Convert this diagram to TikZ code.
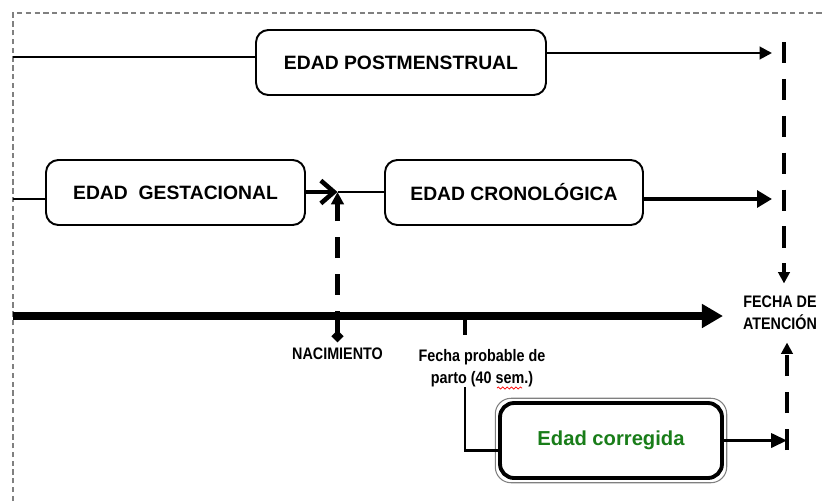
\documentclass[tikz,border=0pt]{standalone}
\usepackage{fontspec}
\setmainfont{Liberation Sans}
\newfontfamily\narrowfont[FakeStretch=0.86]{Liberation Sans}
\usetikzlibrary{arrows.meta,decorations.pathmorphing}
\definecolor{corrgreen}{RGB}{25,125,25}

\begin{document}
\begin{tikzpicture}[x=0.02cm, y=-0.02cm,
  agebox/.style={draw, line width=1.1pt, rounded corners=7pt, inner sep=0pt,
    minimum height=1.3cm, font=\bfseries\fontsize{11}{13}\selectfont},
  labeltext/.style={font=\narrowfont\bfseries\fontsize{9.5}{12.5}\selectfont,
    align=center, inner sep=0pt},
  dashline/.style={line width=2.6pt, dash pattern=on 12pt off 9pt},
]
  \useasboundingbox (0,0) rectangle (825,501);

  % --- frame ---
  \draw[gray, line width=0.6pt, dash pattern=on 3pt off 2pt] (13,501) -- (13,13) -- (825,13);

  % --- boxes ---
  \node[agebox, minimum width=5.8cm] (pm) at (401,62.5) {EDAD POSTMENSTRUAL};
  \node[agebox, minimum width=5.18cm] (ges) at (175.5,192.5) {EDAD\ \ GESTACIONAL};
  \node[agebox, minimum width=5.16cm] (cro) at (514,192.5) {EDAD CRONOLÓGICA};
  \node[agebox, line width=2.2pt, rounded corners=8pt, minimum width=4.44cm,
    minimum height=1.5cm, text=corrgreen,
    font=\bfseries\fontsize{11.5}{13}\selectfont] (cor) at (611,440.5) {Edad corregida};
  \draw[gray, line width=0.6pt, rounded corners=9pt]
    ([shift={(-1.6pt,-1.6pt)}]cor.south west) rectangle ([shift={(1.6pt,1.6pt)}]cor.north east);

  % --- labels ---
  \node[labeltext] (nac) at (337.5,354) {NACIMIENTO};
  \node[labeltext] (fpp) at (482,368) {Fecha probable de\\parto (40 sem.)};
  \node[labeltext] (aten) at (780,313) {FECHA DE\\ATENCIÓN};
  \draw[red, line width=0.4pt, decorate, decoration={snake, amplitude=0.6pt, segment length=2.5pt}]
    (497,388) -- (522,388);

  % --- points ---
  \coordinate (pmin) at (13,57);
  \coordinate (pmend) at (772,53);
  \coordinate (gesin) at (13,199);
  \coordinate (birth) at (337.5,192);
  \coordinate (croend) at (772,199);
  \coordinate (tstart) at (13,316);
  \coordinate (tend) at (723,316);
  \coordinate (nacpt) at (337.5,316);
  \coordinate (fppt) at (465,316);
  \coordinate (atentop) at (784,42);
  \coordinate (corend) at (787,442);
  \coordinate (atenbot) at (787,450);

  % --- upper rows ---
  \draw[line width=1.7pt] (pmin) -- (pmin -| pm.west);
  \draw[line width=1.6pt, -{Triangle[length=7pt,width=7pt]}] (pmend -| pm.east) -- (pmend);
  \draw[line width=1.7pt] (gesin) -- (gesin -| ges.west);
  \draw[line width=2pt, -{Straight Barb[length=7.5pt,width=13pt,line width=2.6pt]}]
    (birth -| ges.east) -- (birth);
  \draw[line width=1.4pt] (birth) -- (birth -| cro.west);
  \draw[line width=2.2pt, -{Triangle[length=8.5pt,width=9.5pt]}] (croend -| cro.east) -- (croend);

  % --- time line ---
  \draw[line width=4.2pt, -{Triangle[length=12pt,width=13pt]}] (tstart) -- (tend);
  \draw[line width=2.4pt, -{Diamond[length=7pt,width=7pt]}] (nacpt) -- ([yshift=3pt]nac.north);
  \draw[line width=2.8pt] (fppt) -- ++(0,19);
  \draw[line width=1.7pt] (fppt |- fpp.south) |- ([yshift=-0.2cm]cor.west);
  \draw[line width=1.8pt, -{Triangle[length=9pt,width=8pt]}] (cor.east) -- (cor.east -| corend);

  % --- dashed guides ---
  \draw[dashline, dash phase=9pt, -{Triangle[length=7pt,width=7pt]}] (nacpt) -- (birth);
  \draw[dashline, shorten >=7pt, -{Triangle[length=6.5pt,width=6.5pt]}]
    (atentop) -- (atentop |- aten.north);
  \draw[dashline, shorten >=7pt, -{Triangle[length=6.5pt,width=6.5pt]}]
    (atenbot) -- (atenbot |- aten.south);

\end{tikzpicture}
\end{document}
